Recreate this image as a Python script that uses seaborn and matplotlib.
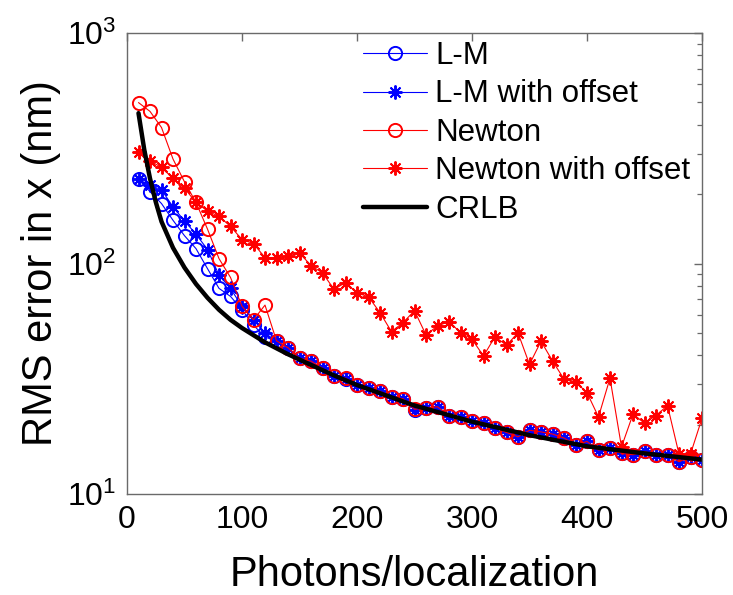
import numpy as np
import pandas as pd
import matplotlib
matplotlib.use("Agg")
import matplotlib.pyplot as plt
import seaborn as sns
from matplotlib.ticker import FixedLocator, LogLocator, NullFormatter, FixedFormatter

# ---------------- data ----------------
photons = [10, 20, 30, 40, 50, 60, 70, 80, 90, 100,
           110, 120, 130, 140, 150, 160, 170, 180, 190, 200,
           210, 220, 230, 240, 250, 260, 270, 280, 290, 300,
           310, 320, 330, 340, 350, 360, 370, 380, 390, 400,
           410, 420, 430, 440, 450, 460, 470, 480, 490, 500]

lm = [232, 205, 182, 154, 132, 116, 95, 78, 72, 63,
      54, 48, 46, 43.0, 38.8, 37.6, 35.1, 32.5, 31.7, 29.8,
      28.7, 27.9, 26.3, 25.9, 23.2, 23.6, 23.9, 21.9, 21.5, 20.8,
      20.4, 19.4, 18.5, 17.7, 18.9, 18.6, 18.2, 17.5, 16.3, 16.9,
      15.5, 15.9, 15.0, 14.8, 15.3, 14.7, 14.8, 13.8, 14.5, 14.1]

lm_offset = [232, 218, 209, 176, 153, 134, 115, 89, 78, 65,
             57, 49.8, 46, 43.0, 38.8, 37.6, 35.1, 32.5, 31.7, 29.8,
             28.7, 27.9, 26.3, 25.9, 23.2, 23.6, 23.9, 21.9, 21.5, 20.8,
             20.4, 19.4, 18.5, 17.7, 18.9, 18.6, 18.2, 17.5, 16.3, 16.9,
             15.5, 15.9, 15.0, 14.8, 15.3, 14.7, 14.8, 13.8, 14.5, 14.1]

newton = [499, 457, 389, 284, 226, 184, 141, 105, 87, 65.3,
          57, 66, 46.2, 43.1, 38.8, 37.7, 35.1, 32.5, 31.8, 29.8,
          28.7, 27.9, 26.4, 25.9, 23.3, 23.7, 23.9, 21.9, 21.5, 20.8,
          20.4, 19.4, 18.5, 17.7, 18.9, 18.6, 18.2, 17.5, 16.3, 16.9,
          15.5, 15.9, 15.0, 14.8, 15.3, 14.7, 14.8, 13.8, 14.5, 14.1]

newton_offset = [306, 279, 261, 234, 212, 184, 169, 160, 145, 127,
                 122, 106, 106, 108, 111, 98, 91, 77.3, 82.6, 74.6,
                 71.7, 61.2, 50.6, 55.4, 62.4, 49.0, 53.6, 56.0, 50.1, 46.9,
                 39.7, 48.1, 44.2, 50.0, 36.5, 46.0, 37.8, 31.5, 30.7, 27.5,
                 21.6, 31.8, 16.0, 22.2, 20.3, 21.9, 24.2, 14.9, 14.9, 21.3]

crlb_x = [10, 15, 20, 25, 30, 40, 50, 60, 70, 80, 90, 100, 120, 140,
          160, 180, 200, 250, 300, 350, 400, 450, 500]
crlb_y = [449, 312, 234, 185, 152, 117, 96, 81.5, 71, 63, 57, 52.5,
          45.5, 40.4, 36.3, 32.7, 29.7, 24.2, 20.6, 18.0, 16.1, 15.0, 14.1]

xticks = [0, 100, 200, 300, 400, 500]
yticks = [10, 100, 1000]
ytick_labels = [r"$10^{1}$", r"$10^{2}$", r"$10^{3}$"]

# ---------------- style ----------------
sns.set_style("white")
plt.rcParams["font.family"] = ["Liberation Sans", "DejaVu Sans"]
plt.rcParams["mathtext.fontset"] = "custom"
plt.rcParams["mathtext.rm"] = "Liberation Sans"
plt.rcParams["mathtext.it"] = "Liberation Sans:italic"
plt.rcParams["mathtext.bf"] = "Liberation Sans:bold"
plt.rcParams["text.color"] = "black"
plt.rcParams["axes.labelcolor"] = "black"

fig = plt.figure(figsize=(7.33, 5.95), dpi=100)
ax = fig.add_axes([127 / 733, 1 - 494 / 595, (702 - 127) / 733, (494 - 33) / 595])

thin = 0.8
ms_o = 9.5
ms_s = 10
asterisk = (8, 2, 0)

sns.lineplot(x=photons, y=lm, ax=ax, color="#0000ff", marker="o", markersize=ms_o,
             markerfacecolor="none", markeredgecolor="#0000ff", markeredgewidth=1.4,
             linewidth=thin, label="L-M", sort=False, estimator=None)
sns.lineplot(x=photons, y=lm_offset, ax=ax, color="#0000ff", marker=asterisk, markersize=ms_s,
             markeredgecolor="#0000ff", markeredgewidth=1.4,
             linewidth=thin, label="L-M with offset", sort=False, estimator=None)
sns.lineplot(x=photons, y=newton, ax=ax, color="#ff0000", marker="o", markersize=ms_o,
             markerfacecolor="none", markeredgecolor="#ff0000", markeredgewidth=1.4,
             linewidth=thin, label="Newton", sort=False, estimator=None)
sns.lineplot(x=photons, y=newton_offset, ax=ax, color="#ff0000", marker=asterisk, markersize=ms_s,
             markeredgecolor="#ff0000", markeredgewidth=1.4,
             linewidth=thin, label="Newton with offset", sort=False, estimator=None)
sns.lineplot(x=crlb_x, y=crlb_y, ax=ax, color="black", linewidth=3.2,
             label="CRLB", sort=False, estimator=None)

ax.set_yscale("log")
ax.set_xlim(0, 500)
ax.set_ylim(10, 1000)

ax.xaxis.set_major_locator(FixedLocator(xticks))
ax.yaxis.set_major_locator(FixedLocator(yticks))
ax.yaxis.set_major_formatter(FixedFormatter(ytick_labels))
ax.yaxis.set_minor_locator(LogLocator(base=10, subs=np.arange(2, 10)))
ax.yaxis.set_minor_formatter(NullFormatter())

spine_col = "#6a6a6a"
for s in ax.spines.values():
    s.set_color(spine_col)
    s.set_linewidth(1.0)
    s.set_visible(True)

ax.tick_params(axis="both", which="both", direction="in", top=True, right=True,
               colors=spine_col, labelcolor="black", labelsize=23)
ax.tick_params(axis="both", which="major", length=6, width=1.0)
ax.tick_params(axis="both", which="minor", length=3.5, width=0.9)
ax.tick_params(axis="x", pad=8)
ax.tick_params(axis="y", pad=8)

ax.set_xlabel("Photons/localization", fontsize=30, labelpad=14, color="black")
ax.set_ylabel("RMS error in x (nm)", fontsize=30, labelpad=4, color="black")

leg = ax.legend(loc="upper left", bbox_to_anchor=(363 / 733, 1 - 41 / 595),
                bbox_transform=fig.transFigure, frameon=False, fontsize=22.5,
                handlelength=2.06, handletextpad=0.25, labelspacing=0.27,
                borderpad=0.0, borderaxespad=0.0)
for t in leg.get_texts():
    t.set_color("black")

fig.savefig("out.png", dpi=100)
